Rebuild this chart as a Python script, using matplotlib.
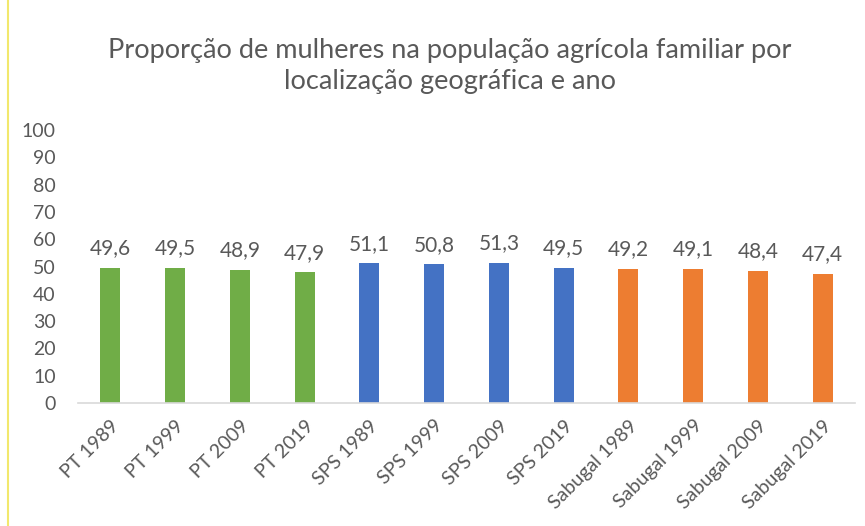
import matplotlib.pyplot as plt

# data
categories = ['PT 1989', 'PT 1999', 'PT 2009', 'PT 2019',
              'SPS 1989', 'SPS 1999', 'SPS 2009', 'SPS 2019',
              'Sabugal 1989', 'Sabugal 1999', 'Sabugal 2009', 'Sabugal 2019']
values = [49.6, 49.5, 48.9, 47.9, 51.1, 50.8, 51.3, 49.5, 49.2, 49.1, 48.4, 47.4]
colors = ['#70AD47'] * 4 + ['#4472C4'] * 4 + ['#ED7D31'] * 4
yticks = list(range(0, 101, 10))

plt.rcParams['font.family'] = ['Lato', 'DejaVu Sans']
text_color = '#595959'

fig = plt.figure(figsize=(8.65, 5.26), dpi=100)
ax = fig.add_axes([78 / 865, 1 - 403 / 526, 777 / 865, 273 / 526])

x = range(len(categories))
ax.bar(x, values, width=0.31, color=colors)

for xi, v in zip(x, values):
    ax.text(xi, v + 3.5, f'{v:.1f}'.replace('.', ','), ha='center', va='bottom',
            fontsize=15, color=text_color)

ax.set_xlim(-0.5, len(categories) - 0.5)
ax.set_ylim(0, 100)
ax.set_yticks(yticks)
ax.set_yticklabels([str(t) for t in yticks], fontsize=14, color=text_color)
ax.set_xticks(list(x))
ax.set_xticklabels(categories, rotation=45, ha='right', rotation_mode='anchor',
                   fontsize=14, color=text_color)
ax.tick_params(axis='y', length=0, pad=16)
ax.tick_params(axis='x', length=0, pad=10)

for side in ['top', 'right', 'left']:
    ax.spines[side].set_visible(False)
ax.spines['bottom'].set_color('#D9D9D9')
ax.spines['bottom'].set_linewidth(1.2)

fig.text(0.52, 1 - 66 / 526, 'Proporção de mulheres na população agrícola familiar por\nlocalização geográfica e ano',
         ha='center', va='center', fontsize=19.5, color=text_color, linespacing=1.3)

# thin border on the left like the source screenshot
fig.add_artist(plt.Line2D([8 / 865, 8 / 865], [0, 1], color='#F2E86D', lw=1.5))

plt.savefig('out.png', dpi=100)
